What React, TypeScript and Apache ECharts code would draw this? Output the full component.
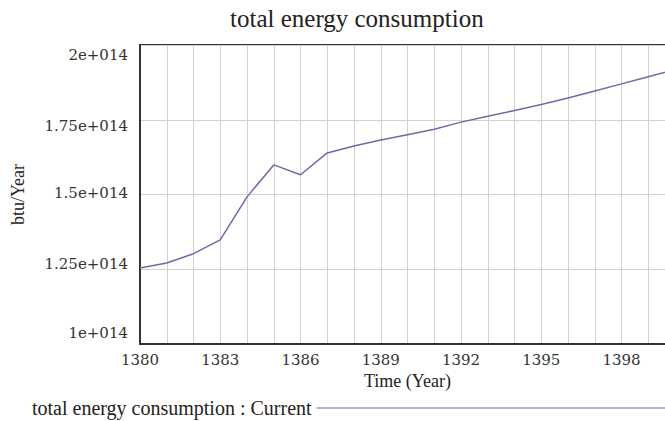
import React, { useEffect, useRef } from "react";
import * as echarts from "echarts";

const years = [1380, 1381, 1382, 1383, 1384, 1385, 1386, 1387, 1388, 1389, 1390, 1391, 1392, 1393, 1394, 1395, 1396, 1397, 1398, 1399, 1400];
const consumption = [
  1.254e14, 1.271e14, 1.302e14, 1.348e14, 1.492e14, 1.599e14, 1.566e14, 1.639e14, 1.662e14, 1.682e14,
  1.700e14, 1.718e14, 1.742e14, 1.762e14, 1.781e14, 1.801e14, 1.823e14, 1.846e14, 1.870e14, 1.894e14, 1.918e14,
];
const yTickLabels = ["1e+014", "1.25e+014", "1.5e+014", "1.75e+014", "2e+014"];
const seriesName = "total energy consumption : Current";
const titleText = "total energy consumption";
const xName = "Time (Year)";
const yName = "btu/Year";

const lineColor = "#6b6ba8";

export default function App() {
  const ref = useRef<HTMLDivElement>(null);
  useEffect(() => {
    if (!ref.current) return;
    const chart = echarts.init(ref.current, undefined, { renderer: "svg" });
    const rich: any = {
      r0: { padding: [0, 0, 22, 0] },
      r1: { padding: [0, 0, 10, 0] },
      r2: { padding: [0, 0, 4, 0] },
      r3: { padding: [12, 0, 0, 0] },
      r4: { padding: [20, 0, 0, 0] },
    };
    chart.setOption({
      animation: false,
      backgroundColor: "#ffffff",
      title: {
        text: titleText,
        left: 230,
        top: 6,
        padding: 0,
        textStyle: { fontFamily: "Liberation Serif", fontSize: 25, fontWeight: "normal", color: "#222" },
      },
      legend: {
        left: 32,
        top: 398,
        padding: 0,
        align: "right",
        icon: "rect",
        itemWidth: 356,
        itemHeight: 1,
        textStyle: { fontFamily: "Liberation Serif", fontSize: 20, color: "#222" },
        data: [{ name: seriesName }],
      },
      grid: {
        left: 140,
        top: 45,
        width: 535,
        height: 299,
        show: true,
        borderColor: "#333",
        borderWidth: 2,
      },
      xAxis: {
        type: "value",
        min: 1380,
        max: 1400,
        interval: 1,
        name: xName,
        nameLocation: "middle",
        nameGap: 28,
        nameTextStyle: { fontFamily: "Liberation Serif", fontSize: 18, color: "#222" },
        axisLine: { show: true, lineStyle: { color: "#333", width: 2 } },
        axisTick: { show: false },
        axisLabel: {
          margin: 8,
          fontFamily: "DejaVu Serif",
          fontSize: 15,
          color: "#333",
          formatter: (v: number) => ((v - 1380) % 3 === 0 ? String(v) : ""),
        },
        splitLine: { show: true, lineStyle: { color: "#d2d2d2", width: 1 } },
      },
      yAxis: {
        type: "value",
        min: 1e14,
        max: 2e14,
        interval: 0.25e14,
        name: yName,
        nameLocation: "middle",
        nameGap: 113,
        nameTextStyle: { fontFamily: "Liberation Serif", fontSize: 18, color: "#222" },
        axisLine: { show: true, lineStyle: { color: "#333", width: 2 } },
        axisTick: { show: false },
        axisLabel: {
          margin: 12,
          fontFamily: "DejaVu Serif",
          fontSize: 15,
          color: "#333",
          formatter: (v: number, i: number) => `{r${i}|${yTickLabels[i]}}`,
          rich,
        },
        splitLine: { show: true, lineStyle: { color: "#d2d2d2", width: 1 } },
      },
      series: [
        {
          name: seriesName,
          type: "line",
          symbol: "none",
          data: years.map((y, i) => [y, consumption[i]]),
          lineStyle: { color: lineColor, width: 1.5 },
          itemStyle: { color: lineColor },
        },
      ],
    });
    return () => chart.dispose();
  }, []);
  return (
    <div style={{ position: "fixed", left: 0, top: 0, width: 665, height: 421, overflow: "hidden", background: "#fff" }}>
      <div ref={ref} style={{ position: "absolute", left: 0, top: 0, width: 680, height: 421 }} />
    </div>
  );
}
